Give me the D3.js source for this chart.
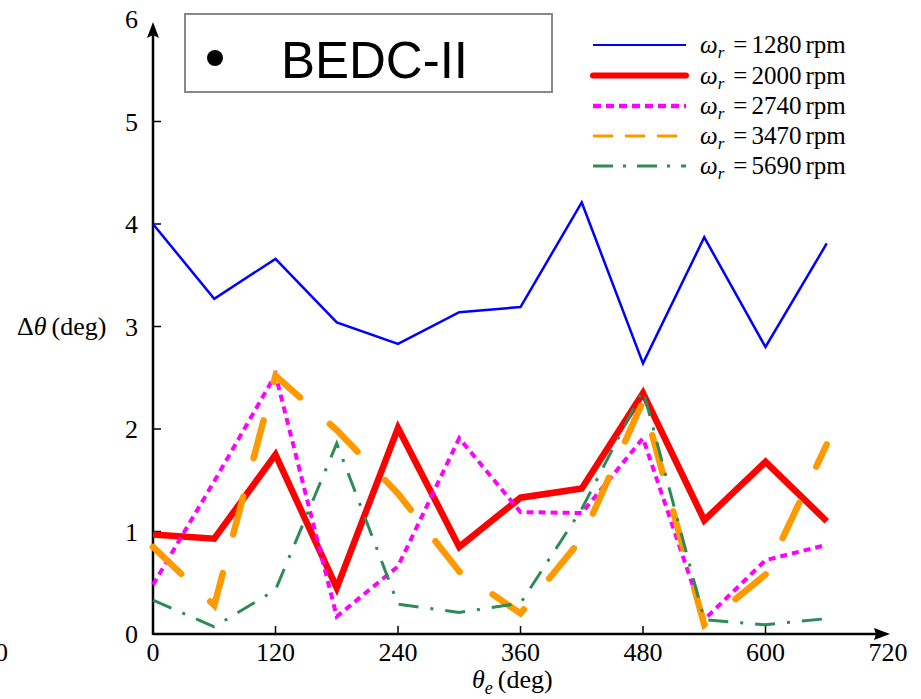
<!DOCTYPE html>
<html>
<head>
<meta charset="utf-8">
<script src="https://cdn.jsdelivr.net/npm/d3@7"></script>
<style>
  body { margin: 0; background: #fff; }
  svg { display: block; }
  .tick-label { font-family: "Liberation Serif", "Times New Roman", serif; font-size: 26px; fill: #000; }
  .leg-text { font-family: "Liberation Serif", "Times New Roman", serif; font-size: 25px; fill: #000; }
</style>
</head>
<body>
<div id="chart"></div>
<script>
// electrical angle (deg)
var thetaE = [0, 60, 120, 180, 240, 300, 360, 420, 480, 540, 600, 660];

// position error (deg) per rotor speed
var err1280 = [4.00, 3.27, 3.66, 3.04, 2.83, 3.14, 3.19, 4.21, 2.64, 3.87, 2.80, 3.81];
var err2000 = [0.97, 0.93, 1.75, 0.45, 2.01, 0.85, 1.33, 1.42, 2.35, 1.11, 1.68, 1.10];
var err2740 = [0.48, 1.49, 2.53, 0.17, 0.66, 1.91, 1.19, 1.18, 1.91, 0.14, 0.72, 0.87];
var err3470 = [0.85, 0.28, 2.52, 1.99, 1.37, 0.61, 0.20, 0.93, 2.27, 0.09, 0.58, 1.85];
var err5690 = [0.33, 0.07, 0.43, 1.86, 0.29, 0.21, 0.30, 1.22, 2.38, 0.14, 0.09, 0.15];

var speeds = ["1280", "2000", "2740", "3470", "5690"];
var xTicks = [0, 120, 240, 360, 480, 600, 720];
var yTicks = [0, 1, 2, 3, 4, 5, 6];

var W = 921, H = 699;

var svg = d3.select("#chart").append("svg")
    .attr("width", W)
    .attr("height", H);

var x = d3.scaleLinear().domain([0, 720]).range([153, 888]);
var y = d3.scaleLinear().domain([0, 6]).range([634, 19]);

// series styling (plot + legend)
var series = [
    { v: err1280, color: "#0000ff", w: 2.5, dash: null, cap: "butt", lw: 2, ldash: null },
    { v: err2000, color: "#ff0000", w: 6.5, dash: null, cap: "butt", lw: 6, ldash: null },
    { v: err2740, color: "#ff00ff", w: 4, dash: "7,5", cap: "butt", lw: 4.5, ldash: "8,5" },
    { v: err3470, color: "#ff9900", w: 6.5, dash: "39,40", cap: "round", lw: 3, ldash: "20,12" },
    { v: err5690, color: "#2e8b57", w: 3, dash: "20,12,3,12", cap: "butt", lw: 3, ldash: "20,10,3,11" }
];

// axes lines with arrows
svg.append("line")
    .attr("x1", x(0)).attr("y1", y(0))
    .attr("x2", 880).attr("y2", y(0))
    .attr("stroke", "#000").attr("stroke-width", 2.5);
svg.append("path")
    .attr("d", "M890," + y(0) + " L874," + (y(0) - 6) + " L876," + y(0) + " L874," + (y(0) + 6) + " Z")
    .attr("fill", "#000");

svg.append("line")
    .attr("x1", x(0)).attr("y1", y(0) + 1)
    .attr("x2", x(0)).attr("y2", 32)
    .attr("stroke", "#000").attr("stroke-width", 2.5);
svg.append("path")
    .attr("d", "M" + x(0) + ",22 L" + (x(0) - 6) + ",38 L" + x(0) + ",35 L" + (x(0) + 6) + ",38 Z")
    .attr("fill", "#000");

// x ticks (inward)
svg.selectAll(".xt").data(xTicks.slice(1, -1)).enter().append("line")
    .attr("x1", function (d) { return x(d); })
    .attr("x2", function (d) { return x(d); })
    .attr("y1", y(0)).attr("y2", y(0) - 8)
    .attr("stroke", "#000").attr("stroke-width", 1.5);

svg.selectAll(".xl").data(xTicks).enter().append("text")
    .attr("class", "tick-label")
    .attr("x", function (d) { return x(d); })
    .attr("y", 661)
    .attr("text-anchor", "middle")
    .text(function (d) { return d; });

// y ticks (inward)
svg.selectAll(".yt").data(yTicks.slice(1, -1)).enter().append("line")
    .attr("x1", x(0)).attr("x2", x(0) + 8)
    .attr("y1", function (d) { return y(d); })
    .attr("y2", function (d) { return y(d); })
    .attr("stroke", "#000").attr("stroke-width", 1.5);

svg.selectAll(".yl").data(yTicks).enter().append("text")
    .attr("class", "tick-label")
    .attr("x", 138)
    .attr("y", function (d) { return y(d) + 9; })
    .attr("text-anchor", "end")
    .text(function (d) { return d; });

// stray zero at the left edge
svg.append("text")
    .attr("class", "tick-label")
    .attr("x", -5).attr("y", 661)
    .text("0");

// axis titles
var yTitle = svg.append("text")
    .attr("class", "tick-label")
    .attr("x", 17).attr("y", 335);
yTitle.append("tspan").text("\u0394");
yTitle.append("tspan").attr("font-style", "italic").text("\u03b8");
yTitle.append("tspan").attr("dx", 5).text("(deg)");

var xTitle = svg.append("text")
    .attr("class", "tick-label")
    .attr("x", 472).attr("y", 688);
xTitle.append("tspan").attr("font-style", "italic").text("\u03b8");
xTitle.append("tspan").attr("font-style", "italic").attr("font-size", 18).attr("dy", 6).text("e");
xTitle.append("tspan").attr("dy", -6).attr("dx", 5).text("(deg)");

// lines
var line = d3.line()
    .x(function (d, i) { return x(thetaE[i]); })
    .y(function (d) { return y(d); });

series.forEach(function (s) {
    svg.append("path")
        .datum(s.v)
        .attr("d", line)
        .attr("fill", "none")
        .attr("stroke", s.color)
        .attr("stroke-width", s.w)
        .attr("stroke-linecap", s.cap)
        .attr("stroke-linejoin", "miter")
        .attr("stroke-dasharray", s.dash);
});

// BEDC-II box
svg.append("rect")
    .attr("x", 185).attr("y", 14)
    .attr("width", 367).attr("height", 78)
    .attr("fill", "#fff")
    .attr("stroke", "#888").attr("stroke-width", 2);
svg.append("circle")
    .attr("cx", 215).attr("cy", 58).attr("r", 8)
    .attr("fill", "#000");
svg.append("text")
    .attr("x", 281).attr("y", 78)
    .attr("font-family", "'Liberation Sans', Arial, sans-serif")
    .attr("font-size", 51)
    .text("BEDC-II");

// legend
var legRowY = [45, 75.5, 106, 136, 166];
var legend = svg.append("g").attr("class", "legend");
series.forEach(function (s, i) {
    var ly = legRowY[i];
    legend.append("line")
        .attr("x1", 593).attr("x2", 686)
        .attr("y1", ly).attr("y2", ly)
        .attr("stroke", s.color)
        .attr("stroke-width", s.lw)
        .attr("stroke-linecap", i === 1 ? "round" : "butt")
        .attr("stroke-dasharray", s.ldash);
    var t = legend.append("text")
        .attr("class", "leg-text")
        .attr("x", 700).attr("y", ly + 8);
    t.append("tspan").attr("font-style", "italic").text("\u03c9");
    t.append("tspan").attr("font-style", "italic").attr("font-size", 17).attr("dy", 5).text("r");
    t.append("tspan").attr("dy", -5).attr("dx", 9).text("=");
    t.append("tspan").attr("dx", 4).text(speeds[i]);
    t.append("tspan").attr("dx", 4).text("rpm");
});
</script>
</body>
</html>
